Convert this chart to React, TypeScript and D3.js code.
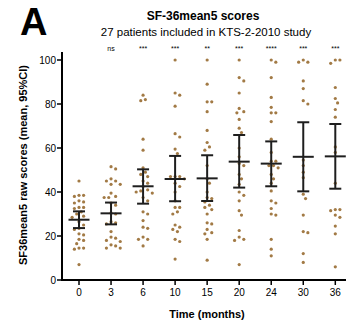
import React from "react";
import * as d3 from "d3";

const categories = ["0", "3", "6", "10", "15", "20", "24", "30", "36"];
const sigLabels = ["", "ns", "***", "***", "**", "***", "****", "***", "***"];

const g0 = [45, 38.5, 38, 38.5, 36, 35.5, 35, 33, 33, 32.5, 31, 30, 29, 28.5, 26.5, 25, 23.5, 23, 21, 20.5, 18.5, 18, 16.5, 14.5, 14, 14.5, 7];
const g3 = [51.5, 50.5, 46, 45, 45, 43.5, 43.5, 39.5, 38, 37.5, 37.5, 35, 34, 30.5, 30, 26.5, 26, 25.5, 22, 19.5, 19, 18, 17.5, 16, 15.5, 14.5, 14.5];
const g6 = [84, 82, 81.5, 64, 59, 51, 49, 48, 47, 45, 44, 41, 40.5, 40, 39.5, 37.5, 31, 30, 27, 24, 23.5, 19.5, 18.5, 18.5, 15.5, 42.5, 36];
const g10 = [100, 85, 84, 79, 66.5, 65, 59.5, 57.5, 47, 47, 47, 44, 42.5, 40, 33, 33, 30, 25, 24, 23, 22, 18.5, 17.5, 9.5, 46, 36, 31];
const g15 = [100, 89, 81, 81, 76.5, 68, 62.5, 60.5, 59, 52, 37.5, 37, 35.5, 33, 32, 30, 26, 25.5, 23, 21.5, 21, 18.5, 9, 46, 44, 40, 34];
const g20 = [100, 90.5, 92, 85, 78, 76.5, 76, 73, 69, 67, 60, 52, 53, 43.5, 38.5, 40, 31.5, 29.5, 22.5, 18.5, 18, 19.5, 7, 56, 48, 46, 36];
const g24 = [100, 99, 92, 83, 78.5, 76, 76, 72, 64, 54, 54, 52, 51, 52, 46, 44, 40.5, 35, 36, 32.5, 30, 29.5, 18.5, 14, 11, 58, 48];
const g30 = [99, 99, 100, 90.5, 87, 81.5, 80, 54.5, 52, 49, 46.5, 39, 37, 29.5, 21.5, 22, 12, 8];
const g36 = [100, 98.5, 100, 87.5, 82.5, 80.5, 77.5, 74, 60.5, 58, 44, 32, 31.5, 32, 29.5, 28.5, 24.5, 21, 6];
const groups = [g0, g3, g6, g10, g15, g20, g24, g30, g36];

const means = [27.4, 30.3, 42.6, 45.9, 46.2, 53.8, 52.9, 56, 56.2];
const ciLow = [23.6, 25.3, 34.7, 35.8, 35.9, 42, 42.6, 40.3, 41.5];
const ciHigh = [31.2, 35.2, 50.3, 56.4, 56.7, 65.9, 63, 71.7, 70.9];
const yTicks = [0, 20, 40, 60, 80, 100];

const W = 347;
const H = 329;
const FONT = "Liberation Sans, Arial, Helvetica, sans-serif";
const DOT = "#a27a45";
const INK = "#1e1e1e";

function swarm(values: number[], y: (v: number) => number, minDist: number) {
  const sorted = values.map((v, i) => ({ v, i })).sort((a, b) => b.v - a.v);
  const placed: { x: number; y: number }[] = [];
  const out: { cx: number; cy: number }[] = [];
  for (const p of sorted) {
    const py = y(p.v);
    const cands = [0];
    for (let k = 1; k < 20; k++) {
      cands.push(k * minDist * 0.5, -k * minDist * 0.5);
    }
    let chosen = 0;
    for (const c of cands) {
      const ok = placed.every((q) => Math.hypot(q.x - c, q.y - py) >= minDist);
      if (ok) {
        chosen = c;
        break;
      }
    }
    placed.push({ x: chosen, y: py });
    out.push({ cx: chosen, cy: py });
  }
  return out;
}

export default function App() {
  const x = d3.scalePoint<string>().domain(categories).range([79, 335.3]);
  const y = d3.scaleLinear().domain([0, 100]).range([280, 60]);
  const axisX0 = 62;
  const axisY0 = 280;

  return (
    <svg width={W} height={H} style={{ position: "absolute", left: 0, top: 0, background: "#fff" }} fontFamily={FONT}>
      <text x={20} y={35} fontSize={38} fontWeight="bold" fill="#000">A</text>
      <text x={203} y={20} fontSize={12} fontWeight="bold" textAnchor="middle" fill="#000">SF-36mean5 scores</text>
      <text x={206} y={36} fontSize={11.5} textAnchor="middle" fill="#000">27 patients included in KTS-2-2010 study</text>

      {/* significance */}
      {categories.map((c, i) => (
        <text key={"s" + c} x={x(c)!} y={51} fontSize={7} textAnchor="middle" fill="#000">{sigLabels[i]}</text>
      ))}

      {/* dots */}
      {groups.map((g, gi) => {
        const pts = swarm(g, y, 4.6);
        return pts.map((p, k) => (
          <circle key={gi + "-" + k} cx={x(categories[gi])! + p.cx} cy={p.cy} r={1.6} fill={DOT} />
        ));
      })}

      {/* error bars */}
      {categories.map((c, i) => {
        const cx = x(c)!;
        return (
          <g key={"e" + c} stroke={INK} strokeWidth={2}>
            <line x1={cx} x2={cx} y1={y(ciLow[i])} y2={y(ciHigh[i])} />
            <line x1={cx - 6} x2={cx + 6} y1={y(ciLow[i])} y2={y(ciLow[i])} />
            <line x1={cx - 6} x2={cx + 6} y1={y(ciHigh[i])} y2={y(ciHigh[i])} />
            <line x1={cx - 10.5} x2={cx + 10.5} y1={y(means[i])} y2={y(means[i])} />
          </g>
        );
      })}

      {/* y axis */}
      <line x1={axisX0} x2={axisX0} y1={52} y2={axisY0 + 1} stroke="#000" strokeWidth={2} />
      {yTicks.map((t) => (
        <g key={"yt" + t}>
          <line x1={axisX0 - 5} x2={axisX0} y1={y(t)} y2={y(t)} stroke="#000" strokeWidth={1.5} />
          <text x={axisX0 - 6} y={y(t) + 3.5} fontSize={10} textAnchor="end" fill="#000">{t}</text>
        </g>
      ))}

      {/* x axis */}
      <line x1={axisX0 - 1} x2={346} y1={axisY0} y2={axisY0} stroke="#000" strokeWidth={2} />
      {categories.map((c) => (
        <g key={"xt" + c}>
          <line x1={x(c)!} x2={x(c)!} y1={axisY0} y2={axisY0 + 5} stroke="#000" strokeWidth={1.5} />
          <text x={x(c)!} y={axisY0 + 16} fontSize={10} textAnchor="middle" fill="#000">{c}</text>
        </g>
      ))}

      <text x={207} y={318} fontSize={11} fontWeight="bold" textAnchor="middle" fill="#000">Time (months)</text>
      <text transform="translate(27,165) rotate(-90)" fontSize={11} fontWeight="bold" textAnchor="middle" fill="#000">
        SF36mean5 raw scores (mean, 95%CI)
      </text>
    </svg>
  );
}
